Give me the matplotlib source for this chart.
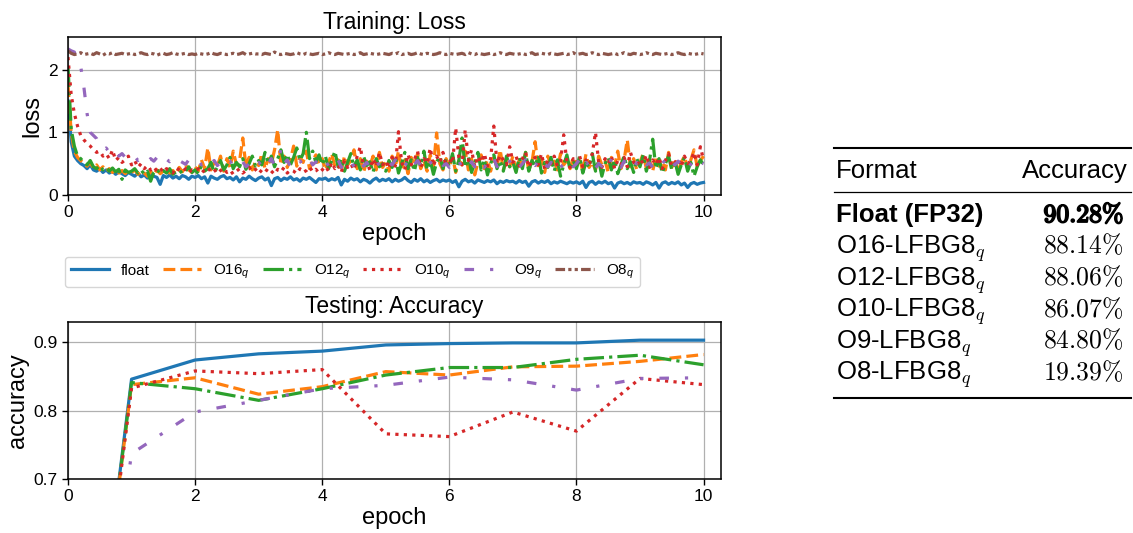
import numpy as np
import matplotlib
matplotlib.use("Agg")
import matplotlib.pyplot as plt
from matplotlib.lines import Line2D
import matplotlib.patheffects as pe

plt.rcParams['font.family'] = ['Liberation Sans', 'DejaVu Sans']
plt.rcParams['mathtext.fontset'] = 'custom'
plt.rcParams['mathtext.it'] = 'Liberation Sans:italic'
plt.rcParams['mathtext.rm'] = 'Liberation Sans'

# ---------------- data ----------------
series_names = ['float', 'O16$_q$', 'O12$_q$', 'O10$_q$', 'O9$_q$', 'O8$_q$']

# training loss sampled every 0.05 epoch (0 .. 10)
loss_float = [
    1.50, 0.85, 0.62, 0.55, 0.50, 0.47, 0.42, 0.48, 0.40, 0.38, 0.42, 0.36, 0.40, 0.35, 0.38, 0.33, 0.37, 0.34, 0.31, 0.36,
    0.33, 0.30, 0.35, 0.29, 0.32, 0.27, 0.33, 0.30, 0.28, 0.17, 0.31, 0.28, 0.32, 0.27, 0.30, 0.26, 0.31, 0.29, 0.25, 0.30,
    0.28, 0.31, 0.26, 0.29, 0.19, 0.30, 0.27, 0.25, 0.29, 0.31, 0.26, 0.28, 0.24, 0.29, 0.21, 0.27, 0.25, 0.30, 0.26, 0.23,
    0.27, 0.29, 0.24, 0.27, 0.15, 0.26, 0.28, 0.23, 0.27, 0.25, 0.29, 0.24, 0.26, 0.22, 0.27, 0.25, 0.28, 0.24, 0.20, 0.26,
    0.25, 0.27, 0.23, 0.26, 0.24, 0.28, 0.16, 0.25, 0.22, 0.27, 0.24, 0.26, 0.21, 0.25, 0.23, 0.19, 0.24, 0.27, 0.22, 0.25,
    0.23, 0.26, 0.21, 0.25, 0.22, 0.24, 0.28, 0.23, 0.20, 0.25, 0.22, 0.26, 0.21, 0.24, 0.20, 0.23, 0.25, 0.21, 0.24, 0.22,
    0.24, 0.20, 0.23, 0.13, 0.22, 0.25, 0.21, 0.23, 0.19, 0.24, 0.22, 0.20, 0.23, 0.21, 0.24, 0.18, 0.22, 0.20, 0.23, 0.21,
    0.22, 0.19, 0.23, 0.20, 0.22, 0.14, 0.21, 0.23, 0.19, 0.22, 0.20, 0.23, 0.18, 0.21, 0.19, 0.22, 0.20, 0.18, 0.21, 0.19,
    0.21, 0.18, 0.22, 0.12, 0.20, 0.22, 0.17, 0.21, 0.19, 0.22, 0.18, 0.20, 0.11, 0.19, 0.21, 0.18, 0.20, 0.17, 0.21, 0.19,
    0.20, 0.17, 0.21, 0.19, 0.16, 0.20, 0.11, 0.19, 0.21, 0.17, 0.20, 0.18, 0.21, 0.16, 0.19, 0.12, 0.18, 0.20, 0.17, 0.19,
    0.20]
loss_o16 = [
    1.75, 1.00, 0.70, 0.60, 0.55, 0.50, 0.46, 0.52, 0.43, 0.48, 0.40, 0.45, 0.38, 0.42, 0.36, 0.41, 0.35, 0.39, 0.34, 0.38,
    0.36, 0.40, 0.33, 0.38, 0.35, 0.30, 0.37, 0.33, 0.40, 0.34, 0.38, 0.42, 0.35, 0.39, 0.33, 0.44, 0.37, 0.48, 0.40, 0.36,
    0.45, 0.38, 0.56, 0.42, 0.75, 0.40, 0.52, 0.46, 0.62, 0.38, 0.58, 0.44, 0.70, 0.48, 0.55, 0.91, 0.45, 0.60, 0.40, 0.54,
    0.47, 0.66, 0.42, 0.58, 0.50, 0.72, 1.04, 0.48, 0.62, 0.44, 0.56, 0.78, 0.46, 0.60, 0.52, 0.70, 0.42, 0.55, 0.64, 0.48,
    0.58, 0.40, 0.52, 0.66, 0.45, 0.56, 0.38, 0.62, 0.48, 0.55, 0.72, 0.42, 0.58, 0.36, 0.54, 0.46, 0.62, 0.40, 0.68, 0.44,
    0.52, 0.38, 0.62, 0.45, 0.70, 0.40, 0.56, 0.34, 0.60, 0.48, 0.66, 0.42, 0.55, 0.38, 0.64, 0.45, 0.99, 0.50, 0.40, 0.58,
    0.44, 0.62, 0.36, 0.55, 0.48, 0.70, 0.40, 0.58, 0.32, 0.52, 0.64, 0.42, 0.56, 0.38, 0.60, 0.46, 0.72, 0.40, 0.55, 0.45,
    0.62, 0.38, 0.56, 0.48, 0.68, 0.40, 0.52, 0.85, 0.44, 0.58, 0.36, 0.62, 0.46, 0.54, 0.40, 0.66, 0.48, 0.55, 0.42, 0.60,
    0.45, 0.58, 0.38, 0.65, 0.44, 0.52, 0.40, 0.62, 0.48, 0.55, 0.36, 0.60, 0.46, 0.70, 0.42, 0.56, 0.88, 0.45, 0.58, 0.40,
    0.52, 0.66, 0.42, 0.56, 0.38, 0.62, 0.46, 0.54, 0.40, 0.68, 0.44, 0.58, 0.36, 0.52, 0.62, 0.42, 0.56, 0.72, 0.45, 0.55,
    0.62]
loss_o12 = [
    2.05, 1.05, 0.78, 0.62, 0.58, 0.52, 0.48, 0.55, 0.45, 0.42, 0.47, 0.40, 0.44, 0.38, 0.43, 0.37, 0.41, 0.25, 0.40, 0.36,
    0.38, 0.42, 0.35, 0.40, 0.33, 0.38, 0.22, 0.36, 0.41, 0.34, 0.39, 0.35, 0.42, 0.33, 0.37, 0.40, 0.34, 0.38, 0.45, 0.36,
    0.40, 0.34, 0.47, 0.38, 0.42, 0.52, 0.36, 0.44, 0.55, 0.40, 0.48, 0.60, 0.42, 0.52, 0.45, 0.58, 0.41, 0.50, 0.62, 0.46,
    0.55, 0.48, 0.68, 0.50, 0.62, 0.45, 0.58, 0.72, 0.52, 0.65, 0.48, 0.60, 0.75, 0.55, 0.66, 1.00, 0.58, 0.70, 0.52, 0.64,
    0.48, 0.62, 0.42, 0.55, 0.70, 0.45, 0.58, 0.38, 0.52, 0.66, 0.44, 0.56, 0.40, 0.62, 0.47, 0.53, 0.36, 0.58, 0.45, 0.50,
    0.38, 0.55, 0.44, 0.62, 0.35, 0.50, 0.68, 0.42, 0.56, 0.38, 0.60, 0.46, 0.70, 0.40, 0.55, 0.33, 0.52, 0.62, 0.42, 0.58,
    0.45, 0.66, 0.38, 0.55, 0.91, 0.44, 0.60, 0.36, 0.52, 0.68, 0.40, 0.57, 0.32, 0.50, 0.64, 0.42, 0.55, 0.38, 0.62, 0.45,
    0.52, 0.36, 0.60, 0.42, 0.68, 0.38, 0.55, 0.46, 0.63, 0.35, 0.52, 0.44, 0.60, 0.38, 0.56, 0.30, 0.48, 0.64, 0.40, 0.55,
    0.42, 0.62, 0.35, 0.52, 0.44, 0.66, 0.38, 0.55, 0.30, 0.50, 0.60, 0.40, 0.56, 0.34, 0.48, 0.62, 0.42, 0.53, 0.36, 0.58,
    0.45, 0.64, 0.38, 0.55, 0.89, 0.42, 0.58, 0.35, 0.50, 0.62, 0.40, 0.54, 0.33, 0.48, 0.60, 0.38, 0.52, 0.30, 0.45, 0.56,
    0.48]
loss_o10 = [
    2.20, 1.60, 1.30, 1.10, 0.95, 0.88, 0.82, 0.78, 0.72, 0.68, 0.70, 0.62, 0.66, 0.58, 0.72, 0.55, 0.60, 0.52, 0.56, 0.62,
    0.48, 0.55, 0.44, 0.50, 0.42, 0.47, 0.40, 0.45, 0.38, 0.43, 0.36, 0.42, 0.39, 0.35, 0.44, 0.40, 0.37, 0.42, 0.36, 0.40,
    0.38, 0.42, 0.35, 0.40, 0.44, 0.37, 0.41, 0.34, 0.39, 0.43, 0.36, 0.40, 0.33, 0.38, 0.42, 0.35, 0.39, 0.44, 0.37, 0.41,
    0.34, 0.40, 0.36, 0.43, 0.38, 0.33, 0.41, 0.37, 0.44, 0.35, 0.40, 0.38, 0.34, 0.42, 0.36, 0.39, 0.45, 0.37, 0.41, 0.35,
    0.40, 0.46, 0.38, 0.52, 0.42, 0.48, 0.36, 0.55, 0.44, 0.50, 0.40, 0.62, 0.77, 0.46, 0.52, 0.40, 0.58, 0.45, 0.68, 0.48,
    0.55, 0.42, 0.60, 0.46, 1.01, 0.52, 0.40, 0.65, 0.48, 0.56, 0.70, 0.44, 0.58, 0.50, 0.75, 0.46, 0.62, 0.52, 0.68, 0.45,
    0.58, 0.50, 1.07, 0.60, 0.48, 1.04, 0.55, 0.72, 0.45, 0.62, 0.52, 0.66, 0.46, 0.58, 1.10, 0.50, 0.64, 0.56, 0.48, 0.77,
    0.52, 0.62, 0.46, 0.58, 0.68, 0.44, 0.55, 0.60, 0.48, 0.66, 0.42, 0.57, 0.50, 0.62, 0.46, 0.54, 0.96, 0.52, 0.44, 0.58,
    0.50, 0.62, 0.45, 0.56, 0.48, 0.66, 1.00, 0.52, 0.44, 0.58, 0.50, 0.62, 0.42, 0.55, 0.48, 0.60, 0.45, 0.68, 0.52, 0.46,
    0.58, 0.50, 0.64, 0.44, 0.56, 0.48, 0.60, 0.42, 0.55, 0.66, 0.46, 0.52, 0.58, 0.45, 0.62, 0.50, 0.54, 0.68, 0.48, 0.77,
    0.56]
loss_o9 = [
    2.33, 2.30, 2.28, 2.10, 2.05, 1.72, 1.30, 1.00, 0.95, 0.90, 0.78, 0.72, 0.75, 0.68, 0.64, 0.70, 0.62, 0.66, 0.60, 0.63,
    0.58, 0.62, 0.55, 0.60, 0.57, 0.52, 0.58, 0.54, 0.60, 0.56, 0.50, 0.57, 0.53, 0.58, 0.51, 0.55, 0.52, 0.49, 0.56, 0.52,
    0.50, 0.55, 0.48, 0.53, 0.46, 0.51, 0.55, 0.47, 0.52, 0.45, 0.50, 0.54, 0.46, 0.51, 0.48, 0.53, 0.45, 0.50, 0.57, 0.48,
    0.52, 0.46, 0.55, 0.49, 0.58, 0.47, 0.53, 0.72, 0.50, 0.56, 0.45, 0.52, 0.48, 0.55, 0.46, 0.51, 0.57, 0.48, 0.53, 0.45,
    0.50, 0.55, 0.46, 0.52, 0.48, 0.56, 0.44, 0.51, 0.47, 0.54, 0.45, 0.50, 0.57, 0.46, 0.52, 0.43, 0.49, 0.55, 0.47, 0.51,
    0.45, 0.52, 0.48, 0.56, 0.44, 0.50, 0.47, 0.54, 0.42, 0.49, 0.55, 0.46, 0.51, 0.44, 0.52, 0.48, 0.45, 0.53, 0.47, 0.50,
    0.44, 0.51, 0.48, 0.55, 0.42, 0.49, 0.46, 0.53, 0.45, 0.50, 0.56, 0.44, 0.52, 0.47, 0.58, 0.45, 0.50, 0.43, 0.49, 0.54,
    0.46, 0.52, 0.44, 0.50, 0.56, 0.45, 0.51, 0.47, 0.54, 0.43, 0.49, 0.45, 0.52, 0.48, 0.55, 0.44, 0.50, 0.46, 0.53, 0.45,
    0.50, 0.57, 0.44, 0.52, 0.47, 0.55, 0.43, 0.50, 0.46, 0.53, 0.45, 0.58, 0.48, 0.51, 0.44, 0.54, 0.47, 0.50, 0.43, 0.52,
    0.46, 0.55, 0.48, 0.51, 0.44, 0.53, 0.47, 0.50, 0.56, 0.45, 0.52, 0.48, 0.54, 0.46, 0.50, 0.43, 0.49, 0.55, 0.47, 0.52,
    0.50]
loss_o8 = [
    2.30, 2.26, 2.24, 2.25, 2.27, 2.24, 2.25, 2.26, 2.24, 2.27, 2.25, 2.23, 2.26, 2.25, 2.27, 2.24, 2.25, 2.26, 2.24, 2.25,
    2.26, 2.24, 2.25, 2.27, 2.25, 2.24, 2.26, 2.25, 2.23, 2.25, 2.26, 2.24, 2.25, 2.27, 2.25, 2.24, 2.25, 2.26, 2.24, 2.25,
    2.24, 2.26, 2.25, 2.24, 2.25, 2.27, 2.25, 2.24, 2.26, 2.25, 2.24, 2.25, 2.26, 2.24, 2.25, 2.27, 2.24, 2.25, 2.26, 2.25,
    2.25, 2.24, 2.26, 2.25, 2.24, 2.28, 2.25, 2.24, 2.26, 2.25, 2.24, 2.25, 2.27, 2.25, 2.24, 2.26, 2.25, 2.24, 2.25, 2.26,
    2.24, 2.25, 2.27, 2.25, 2.24, 2.26, 2.25, 2.24, 2.25, 2.26, 2.24, 2.25, 2.27, 2.24, 2.25, 2.26, 2.25, 2.24, 2.25, 2.26,
    2.25, 2.24, 2.26, 2.25, 2.27, 2.24, 2.25, 2.26, 2.24, 2.25, 2.27, 2.25, 2.24, 2.26, 2.25, 2.24, 2.25, 2.27, 2.25, 2.24,
    2.26, 2.25, 2.24, 2.25, 2.26, 2.24, 2.27, 2.25, 2.24, 2.26, 2.25, 2.24, 2.25, 2.26, 2.24, 2.25, 2.27, 2.25, 2.24, 2.26,
    2.25, 2.24, 2.25, 2.26, 2.24, 2.25, 2.27, 2.24, 2.25, 2.26, 2.25, 2.24, 2.26, 2.25, 2.24, 2.25, 2.26, 2.24, 2.25, 2.27,
    2.24, 2.25, 2.26, 2.24, 2.25, 2.27, 2.25, 2.24, 2.26, 2.25, 2.24, 2.25, 2.26, 2.24, 2.25, 2.27, 2.25, 2.24, 2.26, 2.25,
    2.24, 2.25, 2.27, 2.25, 2.24, 2.26, 2.25, 2.24, 2.25, 2.26, 2.24, 2.25, 2.27, 2.25, 2.24, 2.26, 2.25, 2.24, 2.25, 2.26,
    2.25]
loss_epoch = np.arange(len(loss_float)) * 0.05

# testing accuracy per epoch
acc_epoch = [0, 1, 2, 3, 4, 5, 6, 7, 8, 9, 10]
acc_float = [0.10, 0.846, 0.874, 0.883, 0.887, 0.896, 0.898, 0.899, 0.899, 0.903, 0.903]
acc_o16 = [0.10, 0.838, 0.848, 0.824, 0.835, 0.857, 0.852, 0.864, 0.865, 0.872, 0.882]
acc_o12 = [0.10, 0.841, 0.832, 0.815, 0.832, 0.852, 0.863, 0.863, 0.875, 0.881, 0.867]
acc_o10 = [0.10, 0.833, 0.858, 0.854, 0.860, 0.766, 0.762, 0.798, 0.770, 0.847, 0.838]
acc_o9 = [0.10, 0.737, 0.798, 0.815, 0.832, 0.837, 0.849, 0.845, 0.830, 0.847, 0.848]
acc_o8 = [0.10, 0.10, 0.10, 0.10, 0.10, 0.10, 0.10, 0.10, 0.10, 0.10, 0.10]

# table
table_formats = ['Float (FP32)', 'O16-LFBG8$_q$', 'O12-LFBG8$_q$', 'O10-LFBG8$_q$',
                 'O9-LFBG8$_q$', 'O8-LFBG8$_q$']
table_acc = [90.28, 88.14, 88.06, 86.07, 84.80, 19.39]

# ---------------- styles ----------------
colors = ['#1f77b4', '#ff7f0e', '#2ca02c', '#d62728', '#9467bd', '#8c564b']
styles = ['-', (0, (3.7, 1.6)), (0, (6.4, 1.6, 1, 1.6)), (0, (1, 1.65)),
          (0, (3, 5, 1, 5)), (0, (3, 1, 1, 1, 1, 1))]
LW = 2.3

W, H = 1133, 533
fig = plt.figure(figsize=(W / 100, H / 100), dpi=100)

def fx(px):
    return px / W

def fy(py):
    return 1 - py / H

ax1 = fig.add_axes([fx(68), fy(195), fx(720.7) - fx(68), fy(37) - fy(195)])
ax2 = fig.add_axes([fx(68), fy(479), fx(720.7) - fx(68), fy(321.7) - fy(479)])

loss_series = [loss_float, loss_o16, loss_o12, loss_o10, loss_o9, loss_o8]
acc_series = [acc_float, acc_o16, acc_o12, acc_o10, acc_o9, acc_o8]

handles = []
for name, vals, c, ls in zip(series_names, loss_series, colors, styles):
    h, = ax1.plot(loss_epoch, vals, color=c, linestyle=ls, lw=LW, label=name)
    handles.append(h)
for vals, c, ls in zip(acc_series, colors, styles):
    ax2.plot(acc_epoch, vals, color=c, linestyle=ls, lw=LW)

for ax in (ax1, ax2):
    ax.set_xlim(0, 10.27)
    ax.set_xticks([0, 2, 4, 6, 8, 10])
    ax.grid(True, color='#b0b0b0', lw=0.9)
    ax.set_axisbelow(True)
    ax.tick_params(labelsize=12.5, length=4, width=1)
    for s in ax.spines.values():
        s.set_linewidth(1.1)
    ax.set_xlabel('epoch', fontsize=17, labelpad=2)

ax1.set_ylim(0, 2.52)
ax1.set_yticks([0, 1, 2])
ax1.set_ylabel('loss', fontsize=17, labelpad=3)
ax1.set_title('Training: Loss', fontsize=16.5, pad=6)

ax2.set_ylim(0.7, 0.93)
ax2.set_yticks([0.7, 0.8, 0.9])
ax2.set_ylabel('accuracy', fontsize=17, labelpad=3)
ax2.set_title('Testing: Accuracy', fontsize=16.5, pad=6)

fig.legend(handles=handles, loc='upper left', bbox_to_anchor=(fx(60), fy(252)),
           ncol=6, fontsize=11, handlelength=2.5, columnspacing=0.85,
           handletextpad=0.8, borderpad=0.4, borderaxespad=0.3, frameon=True,
           fancybox=True, edgecolor='#cccccc')

# ---------------- table ----------------
tx_left = 836
tx_right = 1128
fs_tab = 18.5
fig.add_artist(Line2D([fx(834), fx(1131)], [fy(148)] * 2, color='black', lw=1.5))
fig.add_artist(Line2D([fx(834), fx(1131)], [fy(192)] * 2, color='black', lw=0.9))
fig.add_artist(Line2D([fx(834), fx(1131)], [fy(398)] * 2, color='black', lw=1.5))

fig.text(fx(tx_left), fy(178), 'Format', fontsize=fs_tab, va='baseline', ha='left')
fig.text(fx(tx_right), fy(178), 'Accuracy', fontsize=fs_tab, va='baseline', ha='right')

row_base = [222, 253.6, 285.2, 316.8, 348.4, 380]
for i, (fmt, acc, yb) in enumerate(zip(table_formats, table_acc, row_base)):
    if i == 0:
        fig.text(fx(tx_left), fy(yb), fmt, fontsize=fs_tab, va='baseline', ha='left',
                 fontweight='bold')
        s = r'$%.2f\%%$' % acc
        fig.text(fx(1124), fy(yb), s, fontsize=fs_tab, va='baseline', ha='right',
                 math_fontfamily='cm',
                 path_effects=[pe.withStroke(linewidth=1.3, foreground='black')])
    else:
        fig.text(fx(tx_left), fy(yb), fmt, fontsize=fs_tab, va='baseline', ha='left',
                 math_fontfamily='cm')
        s = r'$%.2f\%%$' % acc
        fig.text(fx(1124), fy(yb), s, fontsize=fs_tab, va='baseline', ha='right',
                 math_fontfamily='cm')

fig.savefig('out.png', dpi=100, facecolor='white')
